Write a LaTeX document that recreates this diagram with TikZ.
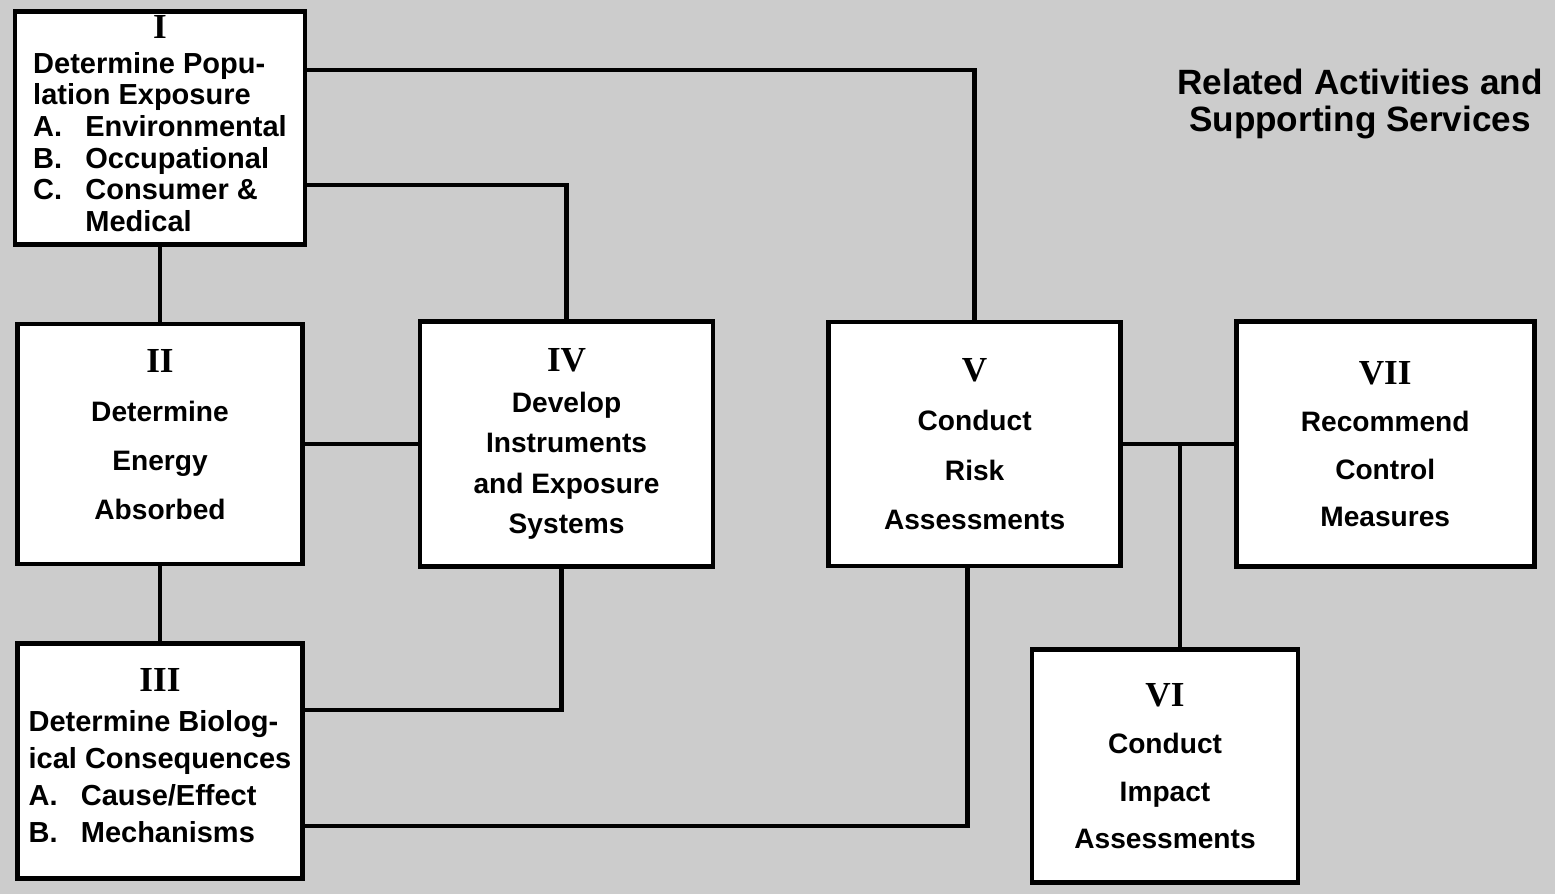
\documentclass[tikz,border=0pt]{standalone}
\usepackage{fontspec}
\setmainfont{Liberation Sans}
\newfontfamily\numfont{Liberation Serif}
\usetikzlibrary{positioning}
\newcommand{\rnum}[1]{{\numfont\bfseries\fontsize{20}{20}\selectfont #1}}

\begin{document}
\begin{tikzpicture}[
    node distance=1.5cm,
    box/.style={rectangle, draw, line width=2.6pt, fill=white, align=center, minimum width=5.8cm, minimum height=4.8cm, inner sep=2pt, font=\bfseries\fontsize{16}{28}\selectfont},
    link/.style={line width=2.6pt},
    title/.style={font=\bfseries\fontsize{20}{21}\selectfont, align=center}
]
% Background
\useasboundingbox (0,0) rectangle (31.1,17.88);
\fill[black!20] (0,0) rectangle (31.1,17.88);

% Boxes
\node[box, minimum height=4.66cm, font=\bfseries\fontsize{16.5}{18}\selectfont] (pop) at (3.2,15.32) {\rnum{I}\\[2pt]
  \begin{tabular}[t]{@{}l@{\hspace{0.8em}}l@{}}
  \multicolumn{2}{@{}l@{}}{Determine Popu-}\\
  \multicolumn{2}{@{}l@{}}{lation Exposure}\\
  A. & Environmental\\
  B. & Occupational\\
  C. & Consumer \&\\
     & Medical
  \end{tabular}};
\node[box, minimum width=5.7cm, below=of pop] (energy) {\rnum{II}\\Determine\\Energy\\Absorbed\\[-17pt]};
\node[box, minimum width=5.7cm, minimum height=4.7cm, below=of energy, font=\bfseries\fontsize{16.5}{21}\selectfont] (bio) {\rnum{III}\\[2pt]
  \begin{tabular}[t]{@{}l@{\hspace{0.8em}}l@{}}
  \multicolumn{2}{@{}l@{}}{Determine Biolog-}\\
  \multicolumn{2}{@{}l@{}}{ical Consequences}\\
  A. & Cause/Effect\\
  B. & Mechanisms
  \end{tabular}};
\node[box, minimum width=5.86cm, minimum height=4.9cm, right=2.26cm of energy, font=\bfseries\fontsize{16}{23}\selectfont] (instr) {\rnum{IV}\\Develop\\Instruments\\and Exposure\\Systems};
\node[box, minimum width=5.84cm, minimum height=4.88cm, right=2.22cm of instr] (risk) {\rnum{V}\\Conduct\\Risk\\Assessments};
\node[box, minimum width=5.96cm, minimum height=4.9cm, right=2.22cm of risk, font=\bfseries\fontsize{16}{27}\selectfont] (control) {\rnum{VII}\\Recommend\\Control\\Measures};
\node[box, minimum width=5.32cm, minimum height=4.66cm, font=\bfseries\fontsize{16}{27}\selectfont] (impact) at (23.3,2.56) {\rnum{VI}\\Conduct\\Impact\\Assessments};

\node[title] (head) at (27.2,15.8) {Related Activities and\\Supporting Services};

% Links
\draw[link] ([yshift=1.16cm]pop.east) -| (risk.north);
\draw[link] ([yshift=-1.14cm]pop.east) -| (instr.north);
\draw[link] (pop.south) -- (pop.south |- energy.north);
\draw[link] (energy.east) -- (energy.east -| instr.west);
\draw[link] (energy.south) -- (energy.south |- bio.north);
\draw[link] ([yshift=1.02cm]bio.east) -| ([xshift=-0.1cm]instr.south);
\draw[link] ([yshift=-1.3cm]bio.east) -| ([xshift=-0.14cm]risk.south);
\draw[link] (risk.east) -- (risk.east -| control.west);
\coordinate (tee) at (risk.east -| impact.north);
\draw[link] ([xshift=0.3cm]tee) -- ([xshift=0.3cm]impact.north);
\end{tikzpicture}
\end{document}
